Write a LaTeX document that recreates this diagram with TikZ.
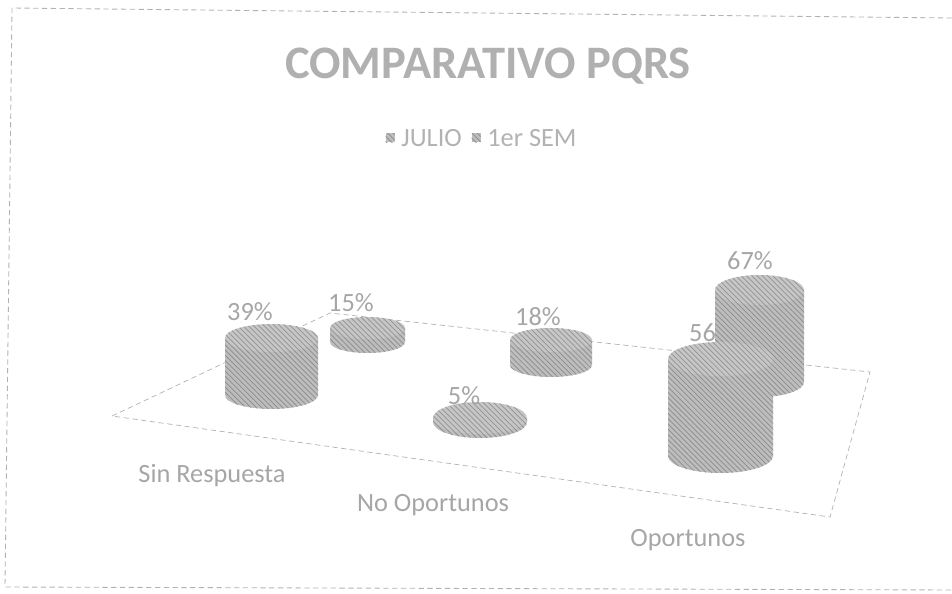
\documentclass[tikz,border=0pt]{standalone}
\usepackage{fontspec}
\setmainfont{Carlito}
\usetikzlibrary{patterns}

\tikzset{
  bar/.style = {preaction={fill=gray!52}, pattern=north west lines, pattern color=gray!90},
  bartop/.style = {preaction={fill=gray!45}, pattern=north west lines, pattern color=gray!85},
  lbl/.style = {text=gray!70, font=\fontsize{15}{18}\selectfont, inner sep=0pt},
  frame/.style = {draw=gray!60, densely dashed, line width=0.5pt}
}

\begin{document}
\begin{tikzpicture}[x=0.02cm, y=-0.02cm]
    \useasboundingbox (0,0) rectangle (952,594);

    % marco
    \draw[frame] (952,18) -- (12,8) -- (5,587) -- (952,590);

    \node (titulo) at (488,66) [text=gray!62, font=\fontsize{26.5}{31}\selectfont\bfseries, inner sep=0pt] {COMPARATIVO PQRS};

    \node (cuadJulio) at (390,138) [bar, minimum size=0.18cm, inner sep=0pt] {};
    \node (leyJulio) at (401,138) [lbl, text=gray!60, anchor=west] {JULIO};
    \node (cuadSem) at (476,138) [bar, minimum size=0.18cm, inner sep=0pt] {};
    \node (leySem) at (487,138) [lbl, text=gray!60, anchor=west] {1er SEM};

    % piso
    \coordinate (pisoI) at (112,416);
    \coordinate (pisoAI) at (330,313);
    \coordinate (pisoAD) at (870,372);
    \coordinate (pisoD) at (830,517);
    \draw[frame, line width=0.4pt] (pisoI) -- (pisoAI) -- (pisoAD) -- (pisoD) -- cycle;

    % fila de atras: 1er SEM
    \fill[bar] (330,328) -- (330,342) arc[start angle=180, end angle=0, x radius=37.5, y radius=11] -- (405,328) -- cycle;
    \fill[bartop] (367.5,328) ellipse [x radius=37.5, y radius=11];
    \node (v15) at (351,303) [lbl] {15\%};

    \fill[bar] (510,340) -- (510,365) arc[start angle=180, end angle=0, x radius=41, y radius=12] -- (592,340) -- cycle;
    \fill[bartop] (551,340) ellipse [x radius=41, y radius=12];
    \node (v18) at (538,317) [lbl] {18\%};

    \node (v56) at (712,333) [lbl] {56\%};

    \fill[bar] (715,290) -- (715,382) arc[start angle=180, end angle=0, x radius=44.5, y radius=15] -- (804,290) -- cycle;
    \fill[bartop] (759.5,290) ellipse [x radius=44.5, y radius=15];
    \node (v67) at (750,261) [lbl] {67\%};

    % fila de adelante: JULIO
    \fill[bar] (225,338) -- (225,395) arc[start angle=180, end angle=0, x radius=46.5, y radius=14] -- (318,338) -- cycle;
    \fill[bartop] (271.5,338) ellipse [x radius=46.5, y radius=14];
    \node (v39) at (250,312) [lbl] {39\%};

    \fill[bar] (433,418) -- (433,422) arc[start angle=180, end angle=0, x radius=47, y radius=16] -- (527,418) -- cycle;
    \fill[bartop] (480,418) ellipse [x radius=47, y radius=16];
    \node (v5) at (464,396) [lbl] {5\%};

    \fill[bar] (668,359) -- (668,456) arc[start angle=180, end angle=0, x radius=52.5, y radius=17] -- (773,359) -- cycle;
    \fill[bartop] (720.5,359) ellipse [x radius=52.5, y radius=17];

    % categorias
    \node (catSin) at (212,476) [lbl] {Sin Respuesta};
    \node (catNo) at (433,505) [lbl] {No Oportunos};
    \node (catOp) at (688,540) [lbl] {Oportunos};
\end{tikzpicture}
\end{document}
